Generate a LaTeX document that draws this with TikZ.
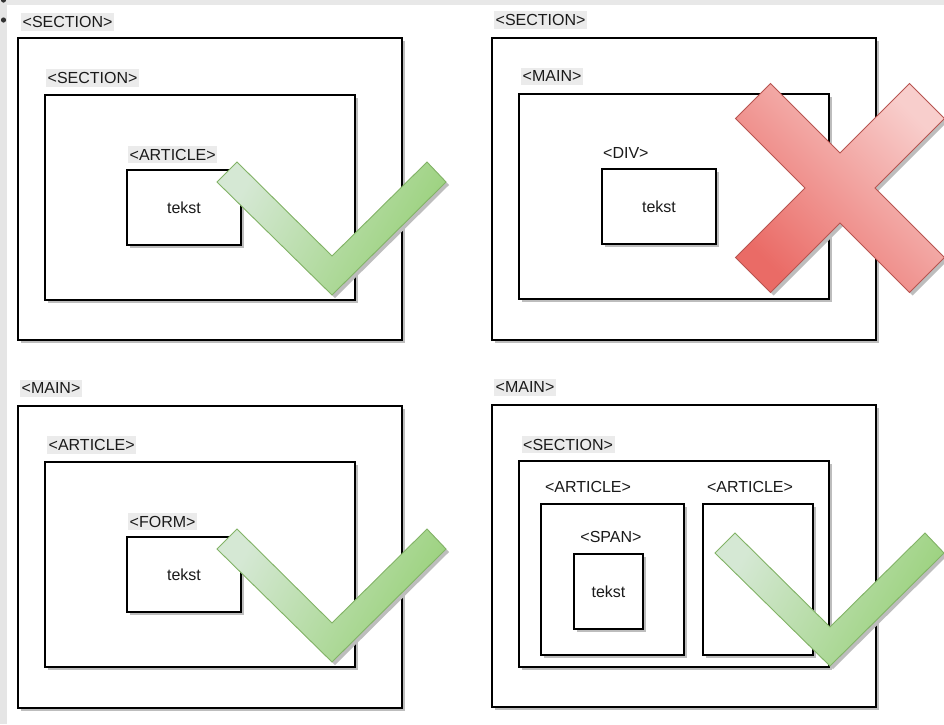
\documentclass[tikz,border=0pt]{standalone}
\usepackage{fontspec}
\setmainfont{Liberation Sans}
\usetikzlibrary{shadows,calc}
\definecolor{labbg}{HTML}{EBEBEB}
\definecolor{okfill}{HTML}{D5E8D4}
\definecolor{okfill2}{HTML}{97D077}
\definecolor{okline}{HTML}{82B366}
\definecolor{nofill}{HTML}{F8CECC}
\definecolor{nofill2}{HTML}{EA6B66}
\definecolor{noline}{HTML}{B85450}
\definecolor{shad}{HTML}{BDBDBD}
\definecolor{txt}{HTML}{1A1A1A}
\tikzset{
  box/.style={draw=black, line width=1.2pt, fill=white, anchor=north west,
    inner sep=0pt, outer sep=0pt, text=txt,
    drop shadow={shadow xshift=3pt, shadow yshift=-3pt, fill=shad, opacity=1}},
  lab/.style={fill=labbg, text=txt, inner xsep=1.5pt, inner ysep=3pt, anchor=west,
    font=\fontsize{16}{19}\selectfont},
  plainlab/.style={text=txt, inner sep=1pt, font=\fontsize{16}{19}\selectfont},
  tekstlab/.style={text=txt, inner sep=0pt, font=\fontsize{16}{19}\selectfont},
  okmark/.style={draw=okline, line width=0.9pt, left color=okfill, right color=okfill2, shading angle=60},
  nomark/.style={draw=noline, line width=0.9pt, top color=nofill, bottom color=nofill2, shading angle=-45},
  markshadow/.style={fill=shad},
}
\newcommand{\okcheck}[2]{%
  \fill[markshadow] ($(#1,#2)+(3,3)$) -- ++(20,-20) -- ++(95,94) -- ++(95,-94) -- ++(19,20) -- ++(-114,113) -- cycle;
  \path[okmark] (#1,#2) -- ++(20,-20) -- ++(95,94) -- ++(95,-94) -- ++(19,20) -- ++(-114,113) -- cycle;
}
\begin{document}
\begin{tikzpicture}[x=1pt,y=-1pt]
\useasboundingbox (0,0) rectangle (944,724);
\fill[white] (0,0) rectangle (944,724);
\fill[black!9] (0,0) rectangle (944,4.7);
\fill[black!10] (0,0) rectangle (7,724);
\fill[black!80] (3.5,0) circle (2.6);
\fill[black!80] (3.5,20) circle (2.6);

% ---------- top left ----------
\node[lab] (tlL1) at (21,22) {<SECTION>};
\node[box, minimum width=384pt, minimum height=302pt] (tlB1) at (18,38) {};
\node[lab] (tlL2) at (46,78) {<SECTION>};
\node[box, minimum width=310pt, minimum height=205pt] (tlB2) at (45,95) {};
\node[lab] (tlL3) at (128,154.5) {<ARTICLE>};
\node[box, minimum width=114pt, minimum height=75pt] (tlB3) at (127,170) {};
\node[tekstlab] (tlT) at (tlB3.center) {tekst};
\okcheck{217}{182}

% ---------- top right ----------
\node[lab] (trL1) at (494,20) {<SECTION>};
\node[box, minimum width=384pt, minimum height=302pt] (trB1) at (492,38) {};
\node[lab] (trL2) at (521,76) {<MAIN>};
\node[box, minimum width=310pt, minimum height=205pt] (trB2) at (519,94) {};
\node[plainlab, anchor=west] (trL3) at (602,153) {<DIV>};
\node[box, minimum width=114pt, minimum height=75pt] (trB3) at (602,169) {};
\node[tekstlab] (trT) at (trB3.center) {tekst};
\fill[markshadow, shift={(843,191)}]
  (0,-35) -- (69.5,-104.5) -- (104.5,-69.5) -- (35,0) -- (104.5,69.5) -- (69.5,104.5)
  -- (0,35) -- (-69.5,104.5) -- (-104.5,69.5) -- (-35,0) -- (-104.5,-69.5) -- (-69.5,-104.5) -- cycle;
\path[nomark, shift={(840,188)}]
  (0,-35) -- (69.5,-104.5) -- (104.5,-69.5) -- (35,0) -- (104.5,69.5) -- (69.5,104.5)
  -- (0,35) -- (-69.5,104.5) -- (-104.5,69.5) -- (-35,0) -- (-104.5,-69.5) -- (-69.5,-104.5) -- cycle;

% ---------- bottom left ----------
\node[lab] (blL1) at (20,388) {<MAIN>};
\node[box, minimum width=384pt, minimum height=302pt] (blB1) at (18,406) {};
\node[lab] (blL2) at (47,445) {<ARTICLE>};
\node[box, minimum width=310pt, minimum height=205pt] (blB2) at (45,462) {};
\node[lab] (blL3) at (128,521.5) {<FORM>};
\node[box, minimum width=114pt, minimum height=75pt] (blB3) at (127,537) {};
\node[tekstlab] (blT) at (blB3.center) {tekst};
\okcheck{217}{549}

% ---------- bottom right ----------
\node[lab] (brL1) at (494,387) {<MAIN>};
\node[box, minimum width=384pt, minimum height=302pt] (brB1) at (492,405) {};
\node[lab] (brL2) at (521.5,444.5) {<SECTION>};
\node[box, minimum width=310pt, minimum height=206pt] (brB2) at (519,461) {};
\node[plainlab] (brL3) at (588,487) {<ARTICLE>};
\node[box, minimum width=143pt, minimum height=151pt] (brB3) at (541,504) {};
\node[plainlab] (brL4) at (750,487) {<ARTICLE>};
\node[box, minimum width=110pt, minimum height=151pt] (brB4) at (703,504) {};
\node[plainlab] (brL5) at (611,537) {<SPAN>};
\node[box, minimum width=69pt, minimum height=75pt] (brB5) at (574,554) {};
\node[tekstlab] (brT) at (brB5.center) {tekst};
\okcheck{715}{553}
\end{tikzpicture}
\end{document}
